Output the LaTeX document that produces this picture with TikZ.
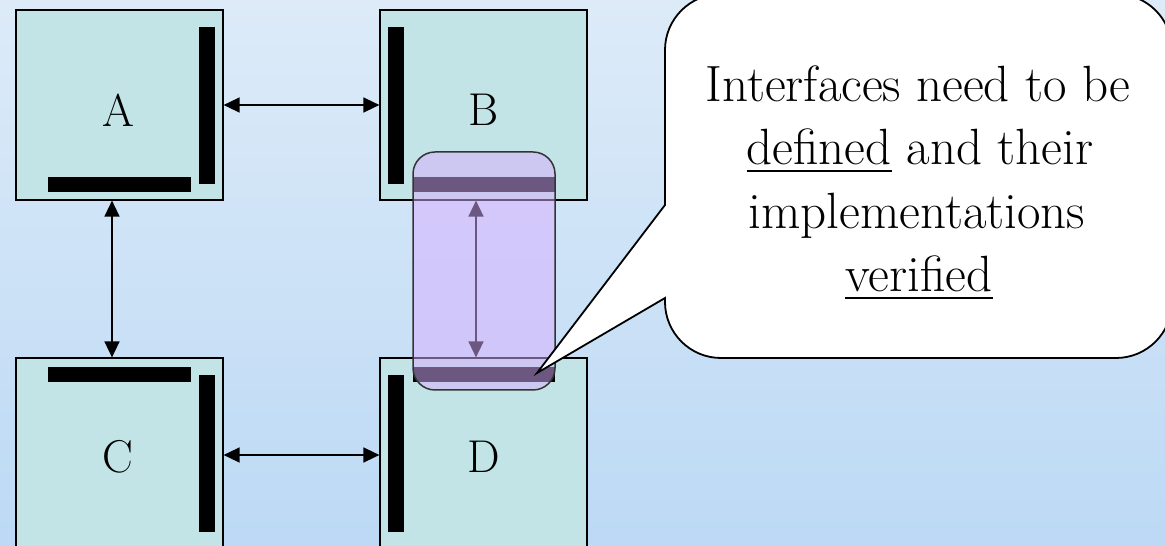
\documentclass[tikz,border=0pt]{standalone}
\usepackage{fontspec}
\usetikzlibrary{arrows.meta}
\definecolor{bgtop}{HTML}{DDEBF8}
\definecolor{bgbot}{HTML}{BCD9F5}
\definecolor{boxfill}{HTML}{C3E4E6}
\definecolor{lavender}{HTML}{D8AEFF}
\newcommand{\undl}[1]{\setbox0\hbox{#1}\rlap{\rule[-7.5pt]{\wd0}{2.4pt}}\box0\relax}
\tikzset{
  module/.style={draw=black, line width=1.2pt, fill=boxfill, inner sep=0pt, minimum width=207pt},
  port/.style={fill=black},
  link/.style={line width=1.5pt, {Triangle[length=16pt,width=15pt]}-{Triangle[length=16pt,width=15pt]}},
  modlabel/.style={font=\fontsize{46}{50}\selectfont, inner sep=0pt},
  bubble/.style={draw=black, line width=1.8pt, fill=white},
  bubbletext/.style={font=\fontsize{51}{60}\selectfont, anchor=base, inner sep=0pt},
  highlight/.style={draw=black!80, line width=1.5pt, fill=lavender, fill opacity=0.5, rounded corners=22pt}
}
\begin{document}
\begin{tikzpicture}[x=1pt, y=1pt]
\useasboundingbox (0,0) rectangle (1165,546);
\clip (0,0) rectangle (1165,546);
% background
\shade[top color=bgtop, bottom color=bgbot] (0,0) rectangle (1165,546);

% modules
\node[module, minimum height=190pt] (A) at (119.5,441) {};
\node[module, minimum height=190pt] (B) at (483.5,441) {};
\node[module, minimum height=202pt] (C) at (119.5,87) {};
\node[module, minimum height=202pt] (D) at (483.5,87) {};

% interface bars
\fill[port] (199,519) rectangle (215,362);
\fill[port] (48,369) rectangle (191,354);
\fill[port] (388,519) rectangle (404,362);
\fill[port] (413,369) rectangle (555,354);
\fill[port] (48,179) rectangle (191,164);
\fill[port] (199,171) rectangle (215,14);
\fill[port] (388,171) rectangle (404,14);
\fill[port] (413,179) rectangle (555,164);

% labels
\node[modlabel] (la) at (118,436) {A};
\node[modlabel] (lb) at (484,436) {B};
\node[modlabel] (lc) at (118,89) {C};
\node[modlabel] (ld) at (484,89) {D};

% connections
\draw[link] (A.east |- 0,441) -- (B.west |- 0,441);
\draw[link] (C.east |- 0,91) -- (D.west |- 0,91);
\draw[link] (A.south -| 112,0) -- (C.north -| 112,0);
\draw[link] (B.south -| 476,0) -- (D.north -| 476,0);

% highlighted interface
\path[highlight] (413,394) rectangle (555,156);

% speech bubble
\draw[bubble] (665,341) -- (665,496) arc[start angle=180, end angle=90, radius=56]
  -- (1116,552) arc[start angle=90, end angle=0, radius=56]
  -- (1172,244) arc[start angle=0, end angle=-90, radius=56]
  -- (721,188) arc[start angle=270, end angle=180, radius=56]
  -- (665,248) -- (537,173) -- cycle;
\node[bubbletext] (t1) at (918,444) {Interfaces need to be};
\node[bubbletext] (t2) at (920,381) {\undl{defined} and their};
\node[bubbletext] (t3) at (917,317) {implementations};
\node[bubbletext] (t4) at (919,254) {\undl{verified}};
\end{tikzpicture}
\end{document}
